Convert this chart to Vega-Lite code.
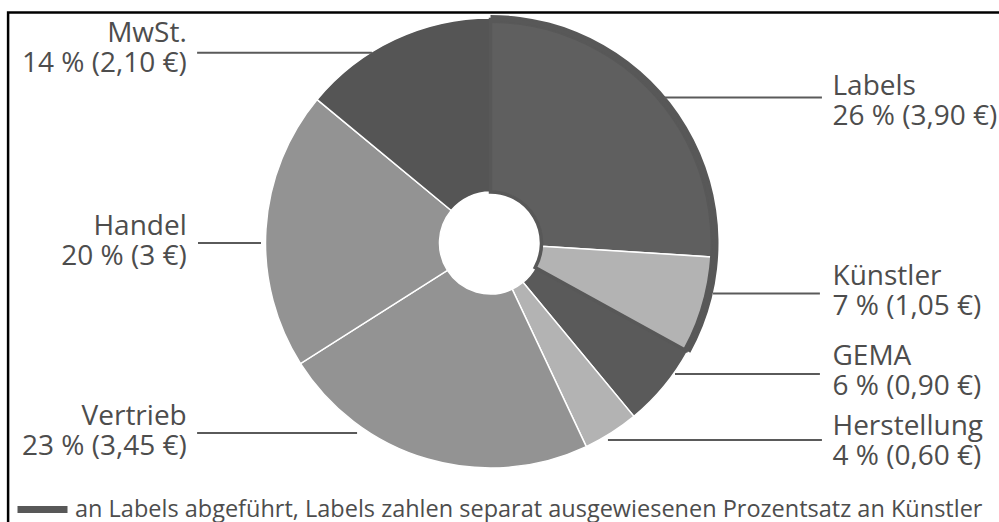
{
  "$schema": "https://vega.github.io/schema/vega-lite/v6.json",
  "width": 981,
  "height": 486,
  "autosize": {"type": "none"},
  "padding": {"left": 0, "top": 0, "right": 18, "bottom": 36},
  "background": "white",
  "config": {
    "view": {"stroke": null},
    "font": "Open Sans"
  },
  "datasets": {
    "kosten": [
      {"nr": 1, "kategorie": "Labels", "anteil": 26, "euro": 3.90, "abrechnung": "an Labels abgeführt, Labels zahlen separat ausgewiesenen Prozentsatz an Künstler"},
      {"nr": 2, "kategorie": "Künstler", "anteil": 7, "euro": 1.05, "abrechnung": "an Labels abgeführt, Labels zahlen separat ausgewiesenen Prozentsatz an Künstler"},
      {"nr": 3, "kategorie": "GEMA", "anteil": 6, "euro": 0.90},
      {"nr": 4, "kategorie": "Herstellung", "anteil": 4, "euro": 0.60},
      {"nr": 5, "kategorie": "Vertrieb", "anteil": 23, "euro": 3.45},
      {"nr": 6, "kategorie": "Handel", "anteil": 20, "euro": 3.00},
      {"nr": 7, "kategorie": "MwSt.", "anteil": 14, "euro": 2.10}
    ],
    "beschriftung": [
      {"kategorie": "MwSt.", "text": "MwSt.\n14 % (2,10 €)", "seite": "links", "tx": -135, "ty": 89.3, "lx": -130.4, "lx2": -52.7, "ly": 84.6},
      {"kategorie": "Handel", "text": "Handel\n20 % (3 €)", "seite": "links", "tx": -135, "ty": 3.6, "lx": -130, "lx2": -102, "ly": 0},
      {"kategorie": "Vertrieb", "text": "Vertrieb\n23 % (3,45 €)", "seite": "links", "tx": -135, "ty": -80.9, "lx": -130.4, "lx2": -59.3, "ly": -84.4},
      {"kategorie": "Labels", "text": "Labels\n26 % (3,90 €)", "seite": "rechts", "tx": 152, "ty": 65.8, "lx": 76.7, "lx2": 147.3, "ly": 64.7},
      {"kategorie": "Künstler", "text": "Künstler\n7 % (1,05 €)", "seite": "rechts", "tx": 152, "ty": -18.7, "lx": 98.9, "lx2": 146.4, "ly": -22.4},
      {"kategorie": "GEMA", "text": "GEMA\n6 % (0,90 €)", "seite": "rechts", "tx": 152, "ty": -54.2, "lx": 82, "lx2": 146.4, "ly": -58.2},
      {"kategorie": "Herstellung", "text": "Herstellung\n4 % (0,60 €)", "seite": "rechts", "tx": 152, "ty": -85.3, "lx": 52.2, "lx2": 147.3, "ly": -87.6}
    ]
  },
  "layer": [
    {
      "data": {"name": "kosten"},
      "mark": {"type": "arc", "radius": 225, "radius2": 51, "stroke": "white", "strokeWidth": 1.5},
      "encoding": {
        "theta": {"field": "anteil", "type": "quantitative", "stack": true, "scale": {"domain": [0, 100]}},
        "order": {"field": "nr", "type": "quantitative"},
        "fill": {
          "field": "kategorie",
          "type": "nominal",
          "scale": {
            "domain": ["Labels", "Künstler", "GEMA", "Herstellung", "Vertrieb", "Handel", "MwSt."],
            "range": ["#5f5f5f", "#b3b3b3", "#5a5a5a", "#b3b3b3", "#939393", "#939393", "#555555"]
          },
          "legend": null
        }
      }
    },
    {
      "data": {"name": "kosten"},
      "transform": [
        {"filter": "isValid(datum.abrechnung)"},
        {"aggregate": [{"op": "sum", "field": "anteil", "as": "anteil"}], "groupby": ["abrechnung"]}
      ],
      "layer": [
        {
          "mark": {"type": "arc", "radius": 228, "radius2": 220, "fill": "#585858"},
          "encoding": {
            "theta": {"field": "anteil", "type": "quantitative", "stack": true}
          }
        },
        {
          "mark": {"type": "arc", "radius": 223.5, "radius2": 51, "filled": false, "strokeWidth": 3.5, "strokeJoin": "miter"},
          "encoding": {
            "theta": {"field": "anteil", "type": "quantitative", "stack": true},
            "stroke": {
              "field": "abrechnung",
              "type": "nominal",
              "scale": {"range": ["#585858"]},
              "legend": {
                "title": null,
                "orient": "none",
                "legendX": 14,
                "legendY": 481,
                "padding": 0,
                "symbolType": "stroke",
                "symbolSize": 2500,
                "symbolStrokeWidth": 7,
                "labelFont": "Open Sans",
                "labelFontSize": 23.5,
                "labelColor": "#4d4d4d",
                "labelLimit": 2000,
                "labelOffset": 4
              }
            }
          }
        }
      ]
    },
    {
      "data": {"name": "beschriftung"},
      "mark": {"type": "rule", "color": "#5a5a5a", "strokeWidth": 2},
      "encoding": {
        "x": {"field": "lx", "type": "quantitative", "scale": {"domain": [-218, 218], "nice": false, "zero": false}, "axis": null},
        "x2": {"field": "lx2"},
        "y": {"field": "ly", "type": "quantitative", "scale": {"domain": [-108, 108], "nice": false, "zero": false}, "axis": null}
      }
    },
    {
      "data": {"name": "beschriftung"},
      "transform": [{"filter": "datum.seite === 'links'"}],
      "mark": {"type": "text", "font": "Open Sans", "fontSize": 28, "lineHeight": 30, "lineBreak": "\n", "color": "#4d4d4d", "baseline": "alphabetic", "align": "right"},
      "encoding": {
        "x": {"field": "tx", "type": "quantitative"},
        "y": {"field": "ty", "type": "quantitative"},
        "text": {"field": "text", "type": "nominal"}
      }
    },
    {
      "data": {"name": "beschriftung"},
      "transform": [{"filter": "datum.seite === 'rechts'"}],
      "mark": {"type": "text", "font": "Open Sans", "fontSize": 28, "lineHeight": 30, "lineBreak": "\n", "color": "#4d4d4d", "baseline": "alphabetic", "align": "left"},
      "encoding": {
        "x": {"field": "tx", "type": "quantitative"},
        "y": {"field": "ty", "type": "quantitative"},
        "text": {"field": "text", "type": "nominal"}
      }
    },
    {
      "data": {"values": [{}]},
      "mark": {"type": "rect", "filled": false, "stroke": "black", "strokeWidth": 2.5},
      "encoding": {
        "x": {"datum": -214.4, "type": "quantitative"},
        "x2": {"datum": 240},
        "y": {"datum": 102.4, "type": "quantitative"},
        "y2": {"datum": -140}
      }
    }
  ]
}
